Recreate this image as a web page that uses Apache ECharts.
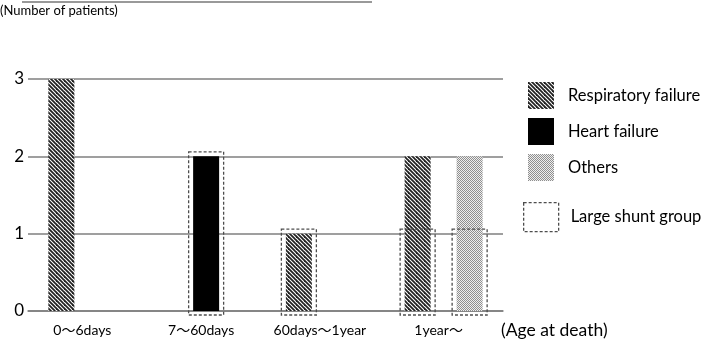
<!DOCTYPE html>
<html><head><meta charset="utf-8">
<script src="https://cdn.jsdelivr.net/npm/echarts@6/dist/echarts.min.js"></script>
<style>html,body{margin:0;padding:0;background:#fff}#c{width:704px;height:345px}</style>
</head><body><div id="c"></div>
<script>
const categories = ['0～6days', '7～60days', '60days～1year', '1year～'];
const respiratory = [3, null, 1, 2];
const heart = [null, 2, null, null];
const others = [null, null, null, 2];
const shuntRespiratory = [null, null, 1, 1];
const shuntHeart = [null, 2, null, null];
const shuntOthers = [null, null, null, 1];
const yTickLabels = ['0', '1', '2', '3'];

const FONT = 'Lato, "Noto Sans CJK JP", sans-serif';
const BAR_W = 26;

function stripePattern() {
  const c = document.createElement('canvas'); c.width = 8; c.height = 8;
  const g = c.getContext('2d');
  g.fillStyle = '#fff'; g.fillRect(0, 0, 8, 8);
  g.strokeStyle = '#222'; g.lineWidth = 1.8;
  for (let o = -12; o <= 12; o += 4) { g.beginPath(); g.moveTo(o - 2, -2); g.lineTo(o + 10, 10); g.stroke(); }
  return c;
}
function dotPattern() {
  const c = document.createElement('canvas'); c.width = 2; c.height = 2;
  const g = c.getContext('2d');
  g.fillStyle = '#eeeeee'; g.fillRect(0, 0, 2, 2);
  g.fillStyle = '#8f8f8f'; g.fillRect(0, 0, 1, 1); g.fillRect(1, 1, 1, 1);
  return c;
}
const stripeFill = { image: stripePattern(), repeat: 'repeat' };
const dotFill = { image: dotPattern(), repeat: 'repeat' };

function shuntSeries(arr, slot) {
  return {
    type: 'custom', name: 'Large shunt group', z: 5,
    data: arr.map((v, i) => [i, v]).filter(d => d[1] != null),
    encode: { x: 0, y: 1 },
    renderItem: function (params, api) {
      const top = api.coord([api.value(0), api.value(1)]);
      const base = api.coord([api.value(0), 0]);
      const cx = top[0] + slot * BAR_W;
      return {
        type: 'rect',
        shape: { x: cx - 17.5, y: top[1] - 4.5, width: 35, height: base[1] - top[1] + 8.5 },
        style: { fill: 'transparent', stroke: '#4d4d4d', lineWidth: 1.3, lineDash: [3, 2] }
      };
    }
  };
}

const chart = echarts.init(document.getElementById('c'), null, { renderer: 'canvas' });
chart.setOption({
  animation: false,
  backgroundColor: '#fff',
  textStyle: { fontFamily: FONT },
  title: { text: '(Number of patients)', left: 0, top: 4, padding: 0, textStyle: { fontFamily: FONT, fontSize: 13, fontWeight: 'normal', color: '#000' } },
  graphic: [{ type: 'line', shape: { x1: 22, y1: 2, x2: 372, y2: 2 }, style: { stroke: '#999', lineWidth: 2 } }],
  grid: { left: 28, right: 201, top: 79, bottom: 34 },
  legend: [
    { orient: 'vertical', left: 523, top: 77, itemWidth: 26, itemHeight: 27, itemGap: 9, icon: 'rect',
      data: ['Respiratory failure', 'Heart failure', 'Others'],
      textStyle: { fontFamily: FONT, fontSize: 16.5, color: '#000', padding: [0, 0, 0, 9] } },
    { orient: 'vertical', left: 518, top: 197, itemWidth: 35, itemHeight: 29, icon: 'rect',
      data: [{ name: 'Large shunt group', itemStyle: { color: 'transparent', borderColor: '#4d4d4d', borderWidth: 1.3, borderType: [3, 2] } }],
      textStyle: { fontFamily: FONT, fontSize: 16.5, color: '#000', padding: [0, 0, 0, 7] } }
  ],
  xAxis: {
    type: 'category', data: categories,
    name: '(Age at death)', nameLocation: 'end', nameGap: -2,
    nameTextStyle: { fontFamily: FONT, fontSize: 17.5, color: '#000', align: 'left', verticalAlign: 'top', padding: [11, 0, 0, 0] },
    axisLine: { lineStyle: { color: '#7f7f7f', width: 1.5 } },
    axisTick: { show: false },
    axisLabel: { interval: 0, fontFamily: FONT, fontSize: 14, color: '#000', margin: 12, padding: [0, 10, 0, 0] }
  },
  yAxis: {
    type: 'value', min: 0, max: 3, interval: 1,
    axisLine: { show: false }, axisTick: { show: false },
    axisLabel: { fontFamily: FONT, fontSize: 17, color: '#000', margin: 4, formatter: v => yTickLabels[v] },
    splitLine: { lineStyle: { color: '#7f7f7f', width: 1.5 } }
  },
  series: [
    { type: 'bar', name: 'Respiratory failure', data: respiratory, barWidth: BAR_W, barGap: '0%', itemStyle: { color: stripeFill } },
    { type: 'bar', name: 'Heart failure', data: heart, barWidth: BAR_W, barGap: '0%', itemStyle: { color: '#000' } },
    { type: 'bar', name: 'Others', data: others, barWidth: BAR_W, barGap: '0%', itemStyle: { color: dotFill } },
    shuntSeries(shuntRespiratory, -1),
    shuntSeries(shuntHeart, 0),
    shuntSeries(shuntOthers, 1)
  ]
});
</script>
</body></html>
